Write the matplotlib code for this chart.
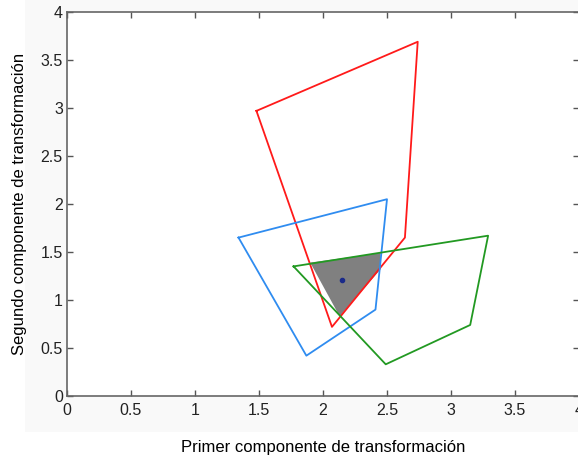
import matplotlib.pyplot as plt
from matplotlib.patches import Polygon, Rectangle

plt.rcParams['font.family'] = ['Liberation Sans', 'DejaVu Sans']

# poligonos (x, y)
rojo_x = [1.48, 2.74, 2.64, 2.07]
rojo_y = [2.97, 3.69, 1.65, 0.72]
azul_x = [1.34, 2.50, 2.41, 1.87]
azul_y = [1.65, 2.05, 0.90, 0.42]
verde_x = [1.77, 3.29, 3.15, 2.49]
verde_y = [1.35, 1.67, 0.74, 0.33]
inter_x = [1.90, 2.45, 2.45, 2.13]
inter_y = [1.39, 1.49, 1.32, 0.83]
punto = (2.15, 1.21)

ticks = [0, 0.5, 1, 1.5, 2, 2.5, 3, 3.5, 4]
ticklabels = ['0', '0.5', '1', '1.5', '2', '2.5', '3', '3.5', '4']

fig = plt.figure(figsize=(5.78, 4.55), dpi=100)
fig.patches.append(Rectangle((25/578, 23/455), 1, 1, transform=fig.transFigure,
                             facecolor='#f9f9f9', edgecolor='none', zorder=-10))
ax = fig.add_axes([67/578, 59/455, 512/578, 384/455])

ax.add_patch(Polygon(list(zip(inter_x, inter_y)), closed=True,
                     facecolor='#808080', edgecolor='none', zorder=1))

def cerrar(xs, ys):
    return xs + xs[:1], ys + ys[:1]

for xs, ys, c in [(rojo_x, rojo_y, '#ff1a1a'), (azul_x, azul_y, '#2f8cf0'),
                  (verde_x, verde_y, '#229922')]:
    cx, cy = cerrar(xs, ys)
    ax.plot(cx, cy, color=c, lw=1.3, zorder=2)

ax.plot(punto[0], punto[1], 'o', color='#1a2a8a', ms=3, zorder=3)

ax.set_xlim(0, 4)
ax.set_ylim(0, 4)
ax.set_xticks(ticks)
ax.set_xticklabels(ticklabels)
ax.set_yticks(ticks)
ax.set_yticklabels(ticklabels)
ax.tick_params(direction='in', top=True, right=True, length=4, width=1,
               colors='#555555', labelcolor='#222222', labelsize=11.5, pad=3)
ax.tick_params(axis='x', pad=5)
for s in ax.spines.values():
    s.set_color('#666666')
    s.set_linewidth(1.2)

ax.set_xlabel('Primer componente de transformación', fontsize=12, labelpad=16)
ax.set_ylabel('Segundo componente de transformación', fontsize=12, labelpad=10)

fig.savefig('out.png', dpi=100)
